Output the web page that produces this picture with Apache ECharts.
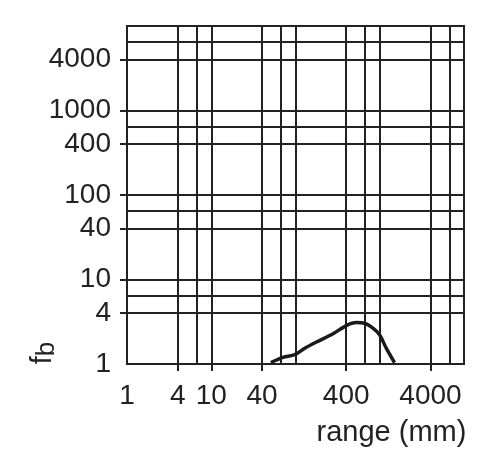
<!DOCTYPE html>
<html><head><meta charset="utf-8">
<script src="https://cdn.jsdelivr.net/npm/echarts@6/dist/echarts.min.js"></script>
<style>html,body{margin:0;padding:0;background:#fff}#c{width:500px;height:465px}</style>
</head><body><div id="c"></div>
<script>
const rangeMm = [51, 71, 98, 129, 177, 279, 401, 527, 661, 829, 995, 1194, 1497];
const fb = [1.04, 1.20, 1.29, 1.54, 1.82, 2.28, 2.85, 3.09, 3.04, 2.66, 2.22, 1.54, 1.04];
const xTickLabels = [1, 4, 10, 40, 400, 4000];
const xTicks = [4, 10, 40, 400, 4000];
const yTickLabels = [1, 4, 10, 40, 100, 400, 1000, 4000];
const yTicks = [4, 10, 40, 100, 400, 1000, 4000];
const xGrid = [4, 6.7, 10, 40, 67, 100, 400, 670, 1000, 4000, 6700];
const yGrid = [4, 6.5, 10, 40, 65, 100, 400, 650, 1000, 4000, 6500];

const INK = '#222';
const FONT = 'Liberation Sans, Arial, sans-serif';
const chart = echarts.init(document.getElementById('c'), null, {renderer: 'canvas'});
chart.setOption({
  animation: false,
  backgroundColor: '#fff',
  grid: {left: 127, right: 36, top: 26, bottom: 101, containLabel: false, outerBoundsMode: 'none',
         show: true, borderColor: INK, borderWidth: 2, backgroundColor: 'transparent'},
  xAxis: {
    type: 'log', logBase: 10, min: 1, max: 10000,
    name: 'range (mm)', nameLocation: 'middle', nameGap: 54, nameMoveOverlap: false,
    nameTextStyle: {fontSize: 29, fontFamily: FONT, color: INK, padding: [0, 0, 0, 192]},
    axisLine: {show: true, lineStyle: {color: INK, width: 2}},
    axisTick: {show: true, customValues: xTicks, length: 7, lineStyle: {color: INK, width: 2}},
    axisLabel: {customValues: xTickLabels, fontSize: 28, fontFamily: FONT, color: INK, margin: 18,
                formatter: v => String(Math.round(v))},
    splitLine: {show: false}, minorTick: {show: false}, minorSplitLine: {show: false}
  },
  yAxis: {
    type: 'log', logBase: 10, min: 1, max: 10000,
    name: 'f{b|b}', nameLocation: 'middle', nameRotate: 90, nameGap: 67, nameMoveOverlap: false,
    nameTextStyle: {fontSize: 29, fontFamily: FONT, color: INK, padding: [0, 316, 0, 0],
      rich: {b: {fontSize: 26, fontFamily: FONT, color: INK, padding: [9, 0, 0, 0]}}},
    axisLine: {show: true, lineStyle: {color: INK, width: 2}},
    axisTick: {show: true, customValues: yTicks, length: 7, lineStyle: {color: INK, width: 2}},
    axisLabel: {customValues: yTickLabels, fontSize: 28, fontFamily: FONT, color: INK, margin: 16,
                formatter: v => String(Math.round(v))},
    splitLine: {show: false}, minorTick: {show: false}, minorSplitLine: {show: false}
  },
  series: [{
    type: 'line',
    data: rangeMm.map((x, i) => [x, fb[i]]),
    showSymbol: false, smooth: 0.3, z: 5,
    lineStyle: {color: '#1a1a1a', width: 3.5},
    markLine: {
      silent: true, symbol: ['none', 'none'], z: 1,
      label: {show: false},
      lineStyle: {color: INK, width: 2, type: 'solid'},
      emphasis: {disabled: true},
      data: xGrid.map(v => ({xAxis: v})).concat(yGrid.map(v => ({yAxis: v})))
    }
  }]
});
</script></body></html>
